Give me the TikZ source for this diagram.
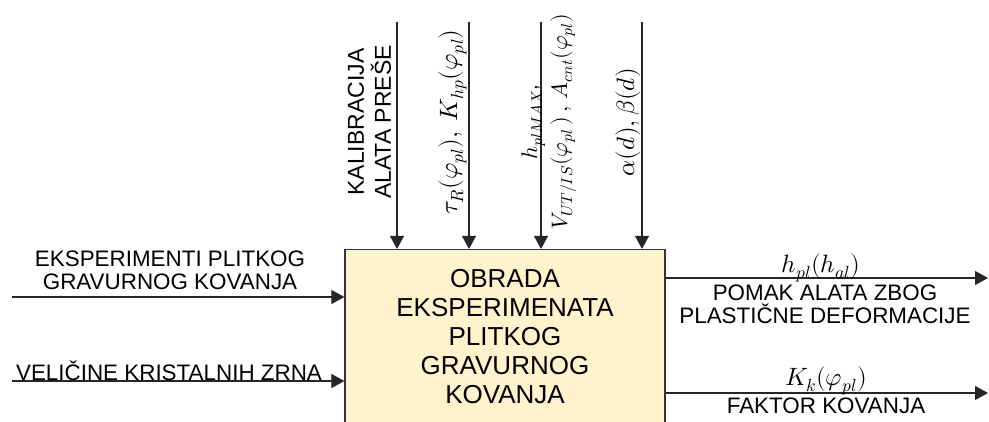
\documentclass[tikz,border=0pt]{standalone}
\usepackage{fontspec}
\usepackage{unicode-math}
\setmainfont{Liberation Sans}
\setmathfont{Latin Modern Math}[Scale=1.12]
\usetikzlibrary{positioning,arrows.meta}
\definecolor{procfill}{RGB}{255,242,204}

\begin{document}
\begin{tikzpicture}[
  x=1pt, y=-1pt,
  procbox/.style={draw=black!80, line width=1.2pt, fill=procfill, minimum width=320pt,
    minimum height=174pt, align=center, font=\fontsize{26}{29}\selectfont},
  lbl/.style={inner sep=0pt, align=center, font=\fontsize{22.4}{23}\selectfont},
  vlbl/.style={lbl, rotate=90},
  arr/.style={-{Triangle[length=13pt,width=14pt]}, line width=1.1pt, black!85}
]
\clip (0,0) rectangle (989,421);
\node[procbox] (obr) at (505,336.5) {OBRADA\\EKSPERIMENATA\\PLITKOG\\GRAVURNOG\\KOVANJA};
% arrow ends
\coordinate (t1) at (397,22);
\coordinate (t2) at (469,22);
\coordinate (t3) at (541,22);
\coordinate (t4) at (642,22);
\coordinate (i1) at (12,297);
\coordinate (i2) at (12,381);
\coordinate (o1) at (988,278);
\coordinate (o2) at (988,393);
\foreach \c in {t1,t2,t3,t4} \draw[arr] (\c) -- (\c |- obr.north);
\foreach \c in {i1,i2} \draw[arr] (\c) -- (\c -| obr.west);
\foreach \c in {o1,o2} \draw[arr] (obr.east |- \c) -- (\c);
% controls
\node[vlbl, font=\fontsize{23}{27}\selectfont] (kal) at (369.5,122) {KALIBRACIJA\\ALATA PREŠE};
\node[vlbl, anchor=south] (tau) at (467,122) {$\tau_R(\varphi_{pl}),\ K_{hp}(\varphi_{pl})$};
\node[vlbl, font=\fontsize{20}{30}\selectfont] (hmax) at (549,122)
  {$h_{plMAX}$,\\$V_{UT/IS}(\varphi_{pl}\,)\,,\,A_{cnt}(\varphi_{pl})$};
\node[vlbl, anchor=south] (ab) at (641,122) {$\alpha(d),\beta(d)$};
% inputs
\node[lbl, anchor=north] (eks) at (170,251) {EKSPERIMENTI PLITKOG\\GRAVURNOG KOVANJA};
\node[lbl, anchor=base] (vel) at (169,380) {VELIČINE KRISTALNIH ZRNA};
% outputs
\node[lbl, anchor=base] (hal) at (821,272) {$h_{pl}(h_{al})$};
\node[lbl, anchor=north] (pom) at (825,285) {POMAK ALATA ZBOG\\PLASTIČNE DEFORMACIJE};
\node[lbl, anchor=base] (kk) at (826,385) {$K_k(\varphi_{pl})$};
\node[lbl, anchor=base] (fak) at (826,413) {FAKTOR KOVANJA};
\end{tikzpicture}
\end{document}
